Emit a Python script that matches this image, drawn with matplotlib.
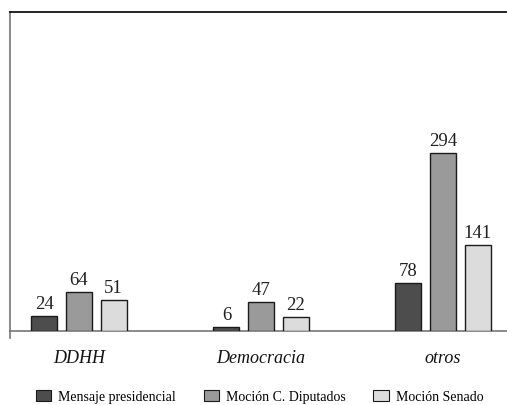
import matplotlib
matplotlib.use("Agg")
import matplotlib.pyplot as plt
import numpy as np
from matplotlib.lines import Line2D

categories = ["DDHH", "Democracia", "otros"]
series_names = ["Mensaje presidencial", "Moción C. Diputados", "Moción Senado"]
mensaje = [24, 6, 78]
diputados = [64, 47, 294]
senado = [51, 22, 141]
colors = ["#4d4d4d", "#9a9a9a", "#dcdcdc"]

plt.rcParams['font.family'] = ['Liberation Serif', 'DejaVu Serif']

W, H = 507, 406
fig = plt.figure(figsize=(W / 100, H / 100), dpi=100)
ax = fig.add_axes([10 / W, (H - 331.5) / H, 1 - 10 / W, (331.5 - 13) / H])

x = np.arange(len(categories))
width = 0.143
offset = 0.19
series = [mensaje, diputados, senado]
for i, (vals, col, name) in enumerate(zip(series, colors, series_names)):
    bars = ax.bar(x + (i - 1) * offset, vals, width, color=col,
                  edgecolor="#1a1a1a", linewidth=1.0, label=name, zorder=3)
    for b, v in zip(bars, vals):
        ax.annotate(str(v), (b.get_x() + b.get_width() / 2, v),
                    xytext=(0, 3), textcoords="offset points",
                    ha="center", va="bottom", fontsize=13.5, color="#222222")

ax.set_xlim(-0.379, 2.352)
ax.set_ylim(0, 528)
ax.set_yticks([])
ax.set_xticks(x)
ax.set_xticklabels(categories, fontsize=13, style="italic", color="#111111")
ax.tick_params(axis="x", length=0, pad=13)

ax.spines["right"].set_visible(False)
ax.spines["top"].set_color("black")
ax.spines["top"].set_linewidth(1.2)
ax.spines["left"].set_color("#777777")
ax.spines["left"].set_linewidth(1.2)
ax.spines["bottom"].set_color("#777777")
ax.spines["bottom"].set_linewidth(1.2)
ax.add_line(Line2D([0, 0], [0, -0.022], transform=ax.transAxes,
                   color="#777777", linewidth=1.2, clip_on=False))

leg = fig.legend(loc="center left", bbox_to_anchor=(36 / W, 1 - 397.5 / H),
                 ncol=3, frameon=False, fontsize=10, handlelength=1.1,
                 handleheight=0.9, handletextpad=0.5, columnspacing=2.0,
                 borderaxespad=0, borderpad=0)
for h in leg.legend_handles:
    h.set_linewidth(0.8)

fig.savefig("out.png", dpi=100)
